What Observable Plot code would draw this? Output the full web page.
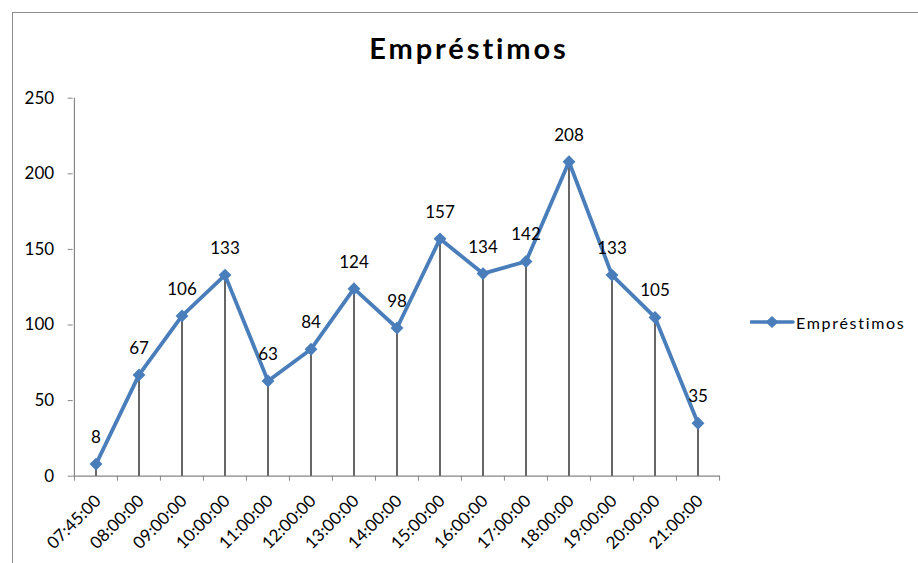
<!DOCTYPE html>
<html><head><meta charset="utf-8">
<script src="https://cdn.jsdelivr.net/npm/d3@7"></script>
<script src="https://cdn.jsdelivr.net/npm/@observablehq/plot@0.6"></script>
<style>
html,body{margin:0;padding:0;background:#fff;}
#wrap{position:relative;width:918px;height:563px;overflow:hidden;font-family:Lato,sans-serif;}
#frame{position:absolute;left:12px;top:12px;width:940px;height:600px;border-left:1.5px solid #8c8c8c;border-top:1.5px solid #8c8c8c;box-sizing:border-box;}
#title{position:absolute;left:0;width:938px;top:28px;text-align:center;font-weight:bold;font-size:29px;letter-spacing:2.9px;line-height:40px;}
#legend{position:absolute;left:750px;top:311px;height:22px;display:flex;align-items:center;font-size:16px;letter-spacing:1.7px;}
#chart{position:absolute;left:0;top:0;}
</style>
</head><body>
<div id="wrap">
<div id="frame"></div>
<div id="chart"></div>
<div id="title">Empréstimos</div>
<div id="legend"><svg width="46" height="22"><line x1="1" y1="11" x2="43" y2="11" stroke="#4A7EBB" stroke-width="3.5" stroke-linecap="round"/><path d="M22,5 L28.5,11 L22,17 L15.5,11Z" fill="#4A7EBB"/></svg><span>Empréstimos</span></div>
</div>
<script>
const times = ["07:45:00","08:00:00","09:00:00","10:00:00","11:00:00","12:00:00","13:00:00","14:00:00","15:00:00","16:00:00","17:00:00","18:00:00","19:00:00","20:00:00","21:00:00"];
const values = [8,67,106,133,63,84,124,98,157,134,142,208,133,105,35];
const yTicks = [0,50,100,150,200,250];
const seriesName = "Empréstimos";

const data = times.map((t,i)=>({time:t, value:values[i]}));
const W = 918, H = 563, ML = 72.7, MR = 198, MT = 97.7, MB = 87.3;
const bw = (W - ML - MR) / times.length;
const blue = "#4A7EBB", gray = "#868686";

const chart = Plot.plot({
  width: W, height: H,
  marginLeft: ML, marginRight: MR, marginTop: MT, marginBottom: MB,
  x: {type: "band", domain: times, padding: 0, axis: null},
  y: {domain: [0, 250], axis: null},
  style: {fontFamily: "Lato, sans-serif", fontSize: "17px", color: "#000", background: "transparent", overflow: "visible"},
  marks: [
    Plot.ruleY([0], {stroke: gray, strokeWidth: 1.2}),
    Plot.ruleX([times[0]], {dx: -bw/2, y1: 0, y2: 250, stroke: gray, strokeWidth: 1.2}),
    Plot.axisY({ticks: yTicks, tickSize: 5, text: null, stroke: gray, label: null}),
    Plot.axisY({ticks: yTicks, tickSize: 0, tickPadding: 19, label: null, fill: "#000", fontSize: 17, letterSpacing: 0.6}),
    Plot.axisX({tickSize: 5, text: null, dx: -bw/2, stroke: gray, label: null}),
    Plot.axisX([times[times.length-1]], {tickSize: 5, text: null, dx: bw/2, stroke: gray, label: null}),
    Plot.axisX({tickSize: 0, tickRotate: -45, tickPadding: 22, dx: 2, label: null, fill: "#000", fontSize: 17, letterSpacing: 1.6}),
    Plot.ruleX(data, {x: "time", y1: 0, y2: "value", stroke: "#000", strokeWidth: 1.2}),
    Plot.line(data, {x: "time", y: "value", stroke: blue, strokeWidth: 3.8, strokeLinejoin: "miter"}),
    Plot.dot(data, {x: "time", y: "value", symbol: "diamond2", r: 5.8, fill: blue, stroke: "none"}),
    Plot.text(data, {x: "time", y: "value", text: "value", dy: -26.5, fill: "#000", fontSize: 17, letterSpacing: 0.6})
  ]
});
document.getElementById("chart").appendChild(chart);
</script>
</body></html>
